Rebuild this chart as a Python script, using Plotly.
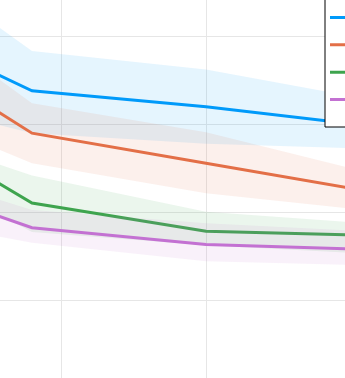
import plotly.graph_objects as go

# shared x positions of the samples
x = [0.6, 1.8, 3.0, 4.2]

# series means and ribbon bounds
y1 = [0.531, 0.438, 0.420, 0.397]
y1_hi = [0.625, 0.483, 0.462, 0.426]
y1_lo = [0.439, 0.390, 0.378, 0.372]

y2 = [0.514, 0.390, 0.356, 0.322]
y2_hi = [0.566, 0.424, 0.391, 0.342]
y2_lo = [0.437, 0.356, 0.322, 0.301]

y3 = [0.428, 0.311, 0.279, 0.274]
y3_hi = [0.409, 0.342, 0.301, 0.287]
y3_lo = [0.382, 0.278, 0.263, 0.253]

y4 = [0.351, 0.283, 0.264, 0.258]
y4_hi = [0.364, 0.303, 0.288, 0.278]
y4_lo = [0.303, 0.266, 0.245, 0.240]

names = ["y1", "y2", "y3", "y4"]
colors = ["#009AFA", "#E36F47", "#3EA44E", "#C371D2"]
fills = [
    "rgba(0,154,250,0.1)",
    "rgba(227,111,71,0.1)",
    "rgba(62,164,78,0.1)",
    "rgba(195,113,210,0.1)",
]

series = [
    (y1, y1_hi, y1_lo),
    (y2, y2_hi, y2_lo),
    (y3, y3_hi, y3_lo),
    (y4, y4_hi, y4_lo),
]

W, H = 345, 378

fig = go.Figure()
for (mid, hi, lo), name, col, fc in zip(series, names, colors, fills):
    fig.add_trace(
        go.Scatter(x=x, y=hi, mode="lines", line=dict(width=0),
                   showlegend=False, hoverinfo="skip")
    )
    fig.add_trace(
        go.Scatter(x=x, y=lo, mode="lines", line=dict(width=0),
                   fill="tonexty", fillcolor=fc,
                   showlegend=False, hoverinfo="skip")
    )
    fig.add_trace(
        go.Scatter(x=x, y=mid, mode="lines", name=name,
                   line=dict(color=col, width=3))
    )

# legend frame (drawn as a shape so it can be a little taller than plotly's box)
fig.add_shape(
    type="rect",
    xref="paper", yref="paper",
    x0=325 / W, x1=1.3,
    y0=1 - 127 / H, y1=1.1,
    fillcolor="white",
    line=dict(color="black", width=1),
    layer="above",
)

fig.update_layout(
    width=W,
    height=H,
    margin=dict(l=0, r=0, t=0, b=0, autoexpand=False),
    paper_bgcolor="white",
    plot_bgcolor="white",
    legend=dict(
        x=325 / W,
        y=1.003,
        xanchor="left",
        yanchor="top",
        traceorder="normal",
        bgcolor="rgba(0,0,0,0)",
        borderwidth=0,
        font=dict(family="DejaVu Sans", size=18.7, color="black"),
    ),
)
fig.update_xaxes(
    range=[1.5793, 3.9586],
    dtick=1,
    showgrid=True,
    gridcolor="#e6e6e6",
    gridwidth=1,
    showticklabels=False,
    zeroline=False,
    showline=False,
    ticks="",
)
fig.update_yaxes(
    range=[0.1128, 0.5408],
    dtick=0.1,
    showgrid=True,
    gridcolor="#e6e6e6",
    gridwidth=1,
    showticklabels=False,
    zeroline=False,
    showline=False,
    ticks="",
)

# drop the default page margin so the figure sits at the window's corner
fig.write_html(
    "out.html",
    config={"displayModeBar": False},
    post_script="document.body.style.margin='0';document.body.style.overflow='hidden';",
)
